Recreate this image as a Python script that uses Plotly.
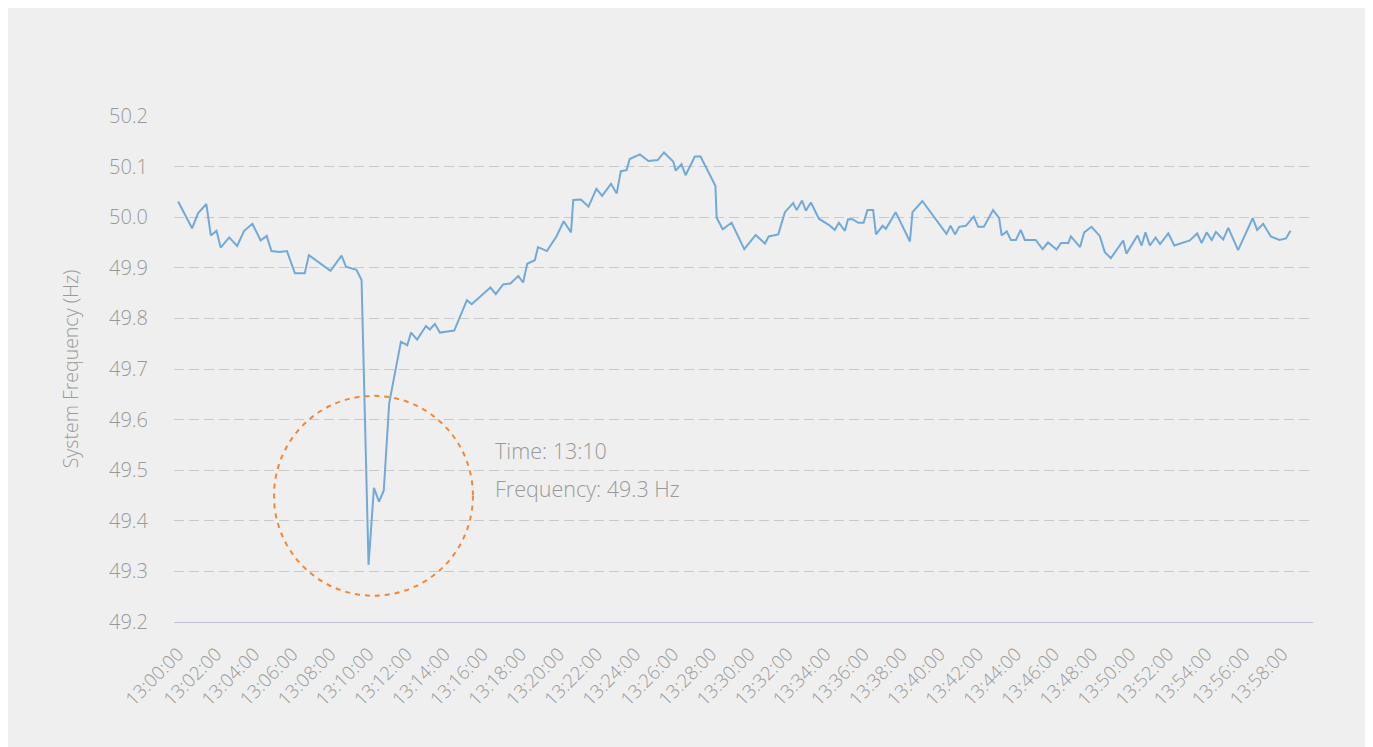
import plotly.graph_objects as go

# ---- data ----
times = [
    "13:00:00","13:00:44","13:01:03","13:01:29","13:01:43","13:02:01","13:02:14","13:02:41","13:03:06","13:03:28",
    "13:03:54","13:04:20","13:04:39","13:04:54","13:05:20","13:05:43","13:06:08","13:06:39","13:06:52","13:08:00",
    "13:08:35","13:08:49","13:09:22","13:09:38","13:10:00","13:10:17","13:10:33","13:10:48","13:11:05","13:11:42",
    "13:12:02","13:12:14","13:12:33","13:13:01","13:13:13","13:13:29","13:13:45","13:14:30","13:15:10","13:15:25",
    "13:16:24","13:16:41","13:17:04","13:17:27","13:17:52","13:18:07","13:18:20","13:18:44","13:18:54","13:19:22",
    "13:19:52","13:20:15","13:20:38","13:20:45","13:21:09","13:21:33","13:21:58","13:22:16","13:22:44","13:23:02",
    "13:23:15","13:23:33","13:23:43","13:24:15","13:24:42","13:25:11","13:25:31","13:26:00","13:26:08","13:26:26",
    "13:26:39","13:27:08","13:27:26","13:28:13","13:28:17","13:28:36","13:29:04","13:29:44","13:30:20","13:30:49",
    "13:31:01","13:31:31","13:31:52","13:32:18","13:32:29","13:32:46","13:32:58","13:33:14","13:33:39","13:34:10",
    "13:34:29","13:34:42","13:35:01","13:35:11","13:35:25","13:35:43","13:36:00","13:36:12","13:36:30","13:36:39",
    "13:37:00","13:37:10","13:37:41","13:38:26","13:38:34","13:39:05","13:40:21","13:40:34","13:40:48","13:41:01",
    "13:41:22","13:41:47","13:42:01","13:42:19","13:42:48","13:43:07","13:43:15","13:43:31","13:43:44","13:44:00",
    "13:44:15","13:44:28","13:45:02","13:45:24","13:45:41","13:46:08","13:46:22","13:46:45","13:46:53","13:47:22",
    "13:47:35","13:47:58","13:48:24","13:48:40","13:48:59","13:49:22","13:49:38","13:49:48","13:50:23","13:50:36",
    "13:50:48","13:51:02","13:51:20","13:51:34","13:52:00","13:52:19","13:53:08","13:53:31","13:53:45","13:54:01",
    "13:54:17","13:54:30","13:54:53","13:55:09","13:55:40","13:56:26","13:56:40","13:56:59","13:57:23","13:57:50",
    "13:58:11","13:58:25",
]
frequency = [
    50.031,49.978,50.008,50.026,49.964,49.973,49.940,49.960,49.943,49.973,
    49.987,49.954,49.963,49.933,49.931,49.933,49.889,49.889,49.925,49.894,
    49.924,49.902,49.896,49.876,49.313,49.465,49.438,49.460,49.632,49.754,
    49.747,49.772,49.758,49.785,49.778,49.789,49.772,49.776,49.836,49.828,
    49.861,49.848,49.867,49.869,49.884,49.871,49.908,49.915,49.941,49.933,
    49.962,49.992,49.970,50.034,50.035,50.021,50.056,50.042,50.066,50.047,
    50.091,50.093,50.115,50.124,50.111,50.113,50.128,50.110,50.092,50.105,
    50.083,50.120,50.120,50.062,49.999,49.976,49.989,49.937,49.965,49.948,
    49.962,49.966,50.010,50.028,50.014,50.033,50.013,50.029,49.997,49.985,
    49.975,49.989,49.973,49.996,49.996,49.989,49.989,50.014,50.014,49.966,
    49.983,49.977,50.010,49.952,50.010,50.032,49.967,49.983,49.966,49.981,
    49.983,50.001,49.981,49.981,50.014,49.998,49.964,49.972,49.955,49.955,
    49.975,49.955,49.955,49.937,49.950,49.936,49.949,49.949,49.962,49.941,
    49.970,49.981,49.963,49.931,49.919,49.941,49.954,49.928,49.964,49.944,
    49.970,49.944,49.960,49.947,49.968,49.944,49.954,49.968,49.949,49.970,
    49.955,49.971,49.956,49.979,49.935,49.998,49.975,49.987,49.962,49.955,
    49.958,49.973,
]
y_ticks = [49.2, 49.3, 49.4, 49.5, 49.6, 49.7, 49.8, 49.9, 50.0, 50.1, 50.2]
y_tick_labels = ["49.2", "49.3", "49.4", "49.5", "49.6", "49.7", "49.8", "49.9", "50.0", "50.1", "50.2"]
annotation_lines = ["Time: 13:10", "Frequency: 49.3 Hz"]

DAY = "2024-01-01 "
x = [DAY + t for t in times]

FONT = "Open Sans"
GRAY = "#999999"
BG = "#efefef"

fig = go.Figure()
fig.add_trace(go.Scatter(
    x=x, y=frequency, mode="lines",
    line=dict(color="#72a9d9", width=2),
    hoverinfo="x+y", showlegend=False,
))

# page has an 8px body margin; figure coords = page coords - 8
OFF = 8
L, R, T, B = 174 - OFF, 1313 - OFF, 116 - OFF, 622 - OFF
W, H = 1373, 747
pw, ph = R - L, B - T

def px(xp):
    return (xp - OFF - L) / pw

def py(yp):
    return (B - (yp - OFF)) / ph

shapes = [
    dict(type="circle", xref="x", yref="y",
         x0=DAY + "13:05:02", x1=DAY + "13:15:29", y0=49.252, y1=49.647,
         line=dict(color="#f0883a", width=2, dash="5px,5px"), fillcolor="rgba(0,0,0,0)"),
]

annot_font = dict(family=FONT, size=21.5, color=GRAY, weight=300)
annotations = [
    dict(xref="paper", yref="paper", x=px(493), y=py(450), xanchor="left", yanchor="middle",
         text=annotation_lines[0], showarrow=False, font=annot_font),
    dict(xref="paper", yref="paper", x=px(493), y=py(488), xanchor="left", yanchor="middle",
         text=annotation_lines[1], showarrow=False, font=annot_font),
]

fig.update_layout(
    width=W, height=H,
    margin=dict(l=L, r=W - R, t=T, b=H - B, autoexpand=False),
    paper_bgcolor=BG, plot_bgcolor=BG,
    font=dict(family=FONT, color=GRAY, size=17, weight=300),
    shapes=shapes, annotations=annotations,
    xaxis=dict(
        type="date",
        range=[DAY + "12:59:47", DAY + "13:59:36"],
        tick0=DAY + "13:00:00", dtick=120000, tickformat="%H:%M:%S",
        tickangle=-45, showgrid=False, zeroline=False,
        showline=True, linecolor="#bfc2cc", linewidth=1,
        ticks="outside", ticklen=13, tickcolor="rgba(0,0,0,0)",
        tickfont=dict(family=FONT, size=18.6, color=GRAY, weight=300),
        automargin=False,
    ),
    yaxis=dict(
        range=[49.2, 50.2], tickvals=y_ticks, ticktext=y_tick_labels,
        showgrid=True, gridcolor="#c9c9c9", griddash="10px,5px", gridwidth=1,
        zeroline=False, showline=False,
        ticks="outside", ticklen=21, tickcolor="rgba(0,0,0,0)",
        tickfont=dict(family=FONT, size=20, color=GRAY, weight=300),
        title=dict(text="System Frequency (Hz)", standoff=25,
                   font=dict(family=FONT, size=19.5, color=GRAY, weight=300)),
        automargin=False,
    ),
)

fig.write_html("out.html")
